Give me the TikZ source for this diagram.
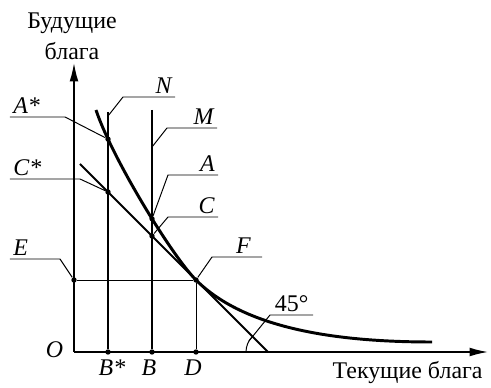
\documentclass[tikz,border=0pt]{standalone}
\usepackage{fontspec}
\setmainfont{Liberation Serif}
\usetikzlibrary{arrows.meta,intersections}

\begin{document}
\begin{tikzpicture}[thick, punkt/.style={
		circle,
		fill=black,
		inner sep=0pt,
		minimum size=3.8pt
	},
	marke/.style={
		font=\fontsize{17}{20}\selectfont\itshape,
		inner sep=2pt
	},
	schrift/.style={
		font=\fontsize{17}{20}\selectfont,
		inner sep=0pt
	},
	fuehrer/.style={line width=0.7pt},
	pfeil/.style={line width=1pt, -{Latex[length=4.6mm,width=2.2mm]}}
	]
	
	\useasboundingbox (-1.85,-0.875) rectangle (10.425,8.8);
	
	%Achsen
	\coordinate (O) at (0,0);
	\coordinate (xend) at (10.35,0);
	\coordinate (yend) at (0,7.225);
	\draw[pfeil] (O) -- (xend);
	\draw[pfeil] (O) -- (yend);
	\node[marke] (lO) at (-0.49,0.05) {O};
	\node[schrift, align=center] (ylab) at (-0.05,7.9) {Будущие\\[2pt]блага};
	\node[schrift] (xlab) at (8.34,-0.525) {Текущие блага};
	
	%Punkte auf der x-Achse
	\node[punkt] (Bs) at (0.85,0) {};
	\node[punkt] (B)  at (1.95,0) {};
	\node[punkt] (D)  at (3.05,0) {};
	\node[punkt] (E)  at (0,1.8) {};
	\node[punkt] (F)  at (3.05,1.8) {};
	\coordinate (K) at (4.85,0);
	\coordinate (Ntop) at (0.85,6.0);
	\coordinate (Mtop) at (1.95,6.05);
	\coordinate (Lstart) at (0.15,4.7);
	
	\node[marke] (lBs) at (0.95,-0.4) {B*};
	\node[marke] (lB)  at (1.875,-0.4) {B};
	\node[marke] (lD)  at (2.975,-0.4) {D};
	
	%Linien N, M
	\draw[name path=linieN, line width=1.6pt] (Ntop) -- (Bs);
	\draw[name path=linieM, line width=1.6pt] (Mtop) -- (B);
	\draw[line width=0.7pt] (E) -- (F) -- (D);
	
	%Kurve und Gerade
	\draw[name path=kurve, line width=2.1pt]
	(0.55,6.05) .. controls (0.95,4.85) and (2.45,2.4) .. (3.05,1.8)
	.. controls (4.25,0.6) and (6.5,0.25) .. (8.95,0.25);
	\draw[name path=budget, line width=1.3pt] (Lstart) -- (K);
	
	\path[name intersections={of=kurve and linieN, by=pAs}];
	\path[name intersections={of=kurve and linieM, by=pA}];
	\path[name intersections={of=budget and linieN, by=pCs}];
	\path[name intersections={of=budget and linieM, by=pC}];
	\node[punkt] (As) at (pAs) {};
	\node[punkt] (A)  at (pA) {};
	\node[punkt] (Cs) at (pCs) {};
	\node[punkt] (C)  at (pC) {};
	
	%Winkel
	\draw[fuehrer] (K) ++ (180:0.55) arc (180:135:0.55);
	\path (K) ++ (150:0.55) coordinate (w45);
	
	%Beschriftungen links
	\coordinate (kAs) at (-0.225,5.875);
	\coordinate (eAs) at (-1.6,5.875);
	\draw[fuehrer] (As) -- (kAs) -- (eAs);
	\node[marke, anchor=south west] (lAs) at (eAs) {A*};
	
	\coordinate (kCs) at (0.15,4.325);
	\coordinate (eCs) at (-1.6,4.325);
	\draw[fuehrer] (Cs) -- (kCs) -- (eCs);
	\node[marke, anchor=south west] (lCs) at (eCs) {C*};
	
	\coordinate (kE) at (-0.35,2.325);
	\coordinate (eE) at (-1.6,2.325);
	\draw[fuehrer] (E) -- (kE) -- (eE);
	\node[marke, anchor=south west] (lE) at (eE) {E};
	
	%Beschriftungen rechts
	\coordinate (tN) at (0.85,5.9);
	\coordinate (kN) at (1.225,6.375);
	\coordinate (eN) at (2.525,6.375);
	\draw[fuehrer] (tN) -- (kN) -- (eN);
	\node[marke, anchor=south east] (lN) at (eN) {N};
	
	\coordinate (tM) at (1.95,5.125);
	\coordinate (kM) at (2.325,5.6);
	\coordinate (eM) at (3.575,5.6);
	\draw[fuehrer] (tM) -- (kM) -- (eM);
	\node[marke, anchor=south east] (lM) at (eM) {M};
	
	\coordinate (kA) at (2.35,4.425);
	\coordinate (eA) at (3.6,4.425);
	\draw[fuehrer] (A) -- (kA) -- (eA);
	\node[marke, anchor=south east] (lA) at (eA) {A};
	
	\coordinate (kC) at (2.35,3.375);
	\coordinate (eC) at (3.6,3.375);
	\draw[fuehrer] (C) -- (kC) -- (eC);
	\node[marke, anchor=south east] (lC) at (eC) {C};
	
	\coordinate (kF) at (3.45,2.375);
	\coordinate (eF) at (4.7,2.375);
	\draw[fuehrer] (F) -- (kF) -- (eF);
	\node[marke, anchor=south east, xshift=-0.2cm] (lF) at (eF) {F};
	
	\coordinate (k45) at (4.9,0.925);
	\coordinate (e45) at (5.975,0.925);
	\draw[fuehrer] (w45) -- (k45) -- (e45);
	\node[schrift, anchor=south, inner sep=2pt] (l45) at (5.44,0.925) {45°};
	
\end{tikzpicture}
\end{document}
